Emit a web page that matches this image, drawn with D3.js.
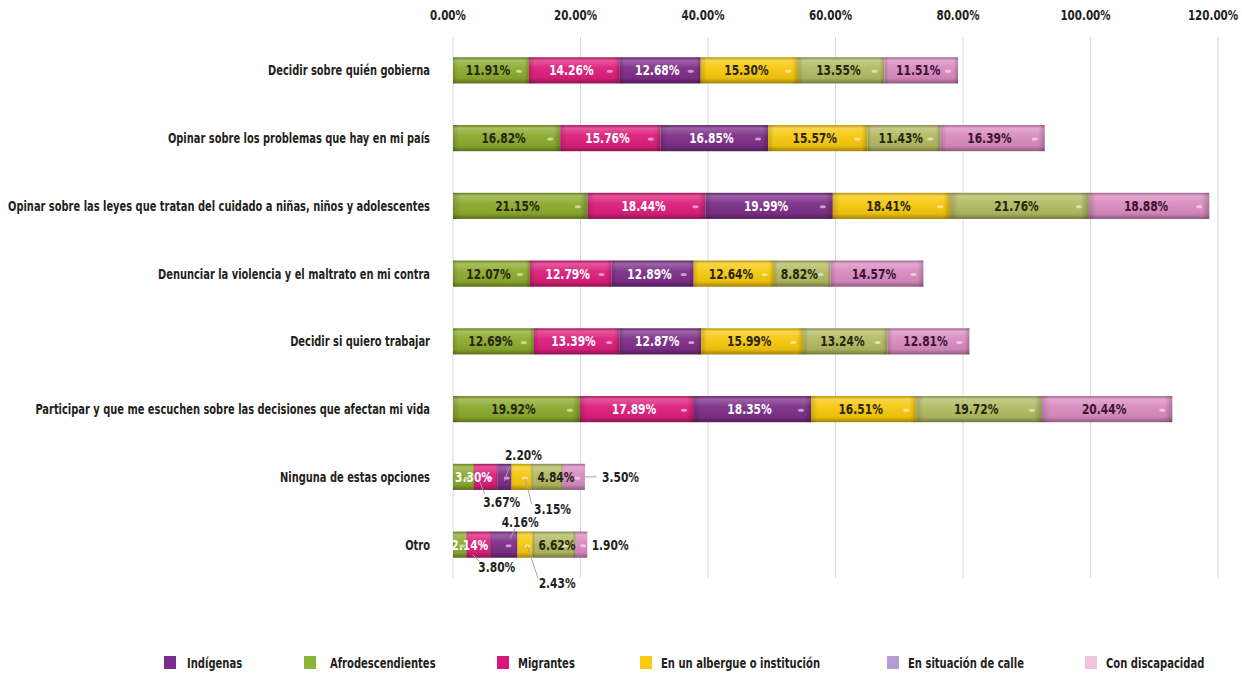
<!DOCTYPE html>
<html>
<head>
<meta charset="utf-8">
<script src="https://cdn.jsdelivr.net/npm/d3@7"></script>
<style>
  body { margin: 0; background: #fff; }
  svg text { font-family: "DejaVu Sans", sans-serif; font-stretch: condensed; font-weight: bold; }
</style>
</head>
<body>
<div id="chart"></div>
<script>
// Categories, top to bottom
var categories = [
  "Decidir sobre quién gobierna",
  "Opinar sobre los problemas que hay en mi país",
  "Opinar sobre las leyes que tratan del cuidado a niñas, niños y adolescentes",
  "Denunciar la violencia y el maltrato en mi contra",
  "Decidir si quiero trabajar",
  "Participar y que me escuchen sobre las decisiones que afectan mi vida",
  "Ninguna de estas opciones",
  "Otro"
];

// Series in stacking order (left to right in each bar)
var seriesNames = ["Afrodescendientes", "Migrantes", "Indígenas", "En un albergue o institución", "En situación de calle", "Con discapacidad"];

var afro         = [11.91, 16.82, 21.15, 12.07, 12.69, 19.92, 3.30, 2.14];
var migrantes    = [14.26, 15.76, 18.44, 12.79, 13.39, 17.89, 3.67, 3.80];
var indigenas    = [12.68, 16.85, 19.99, 12.89, 12.87, 18.35, 2.20, 4.16];
var albergue     = [15.30, 15.57, 18.41, 12.64, 15.99, 16.51, 3.15, 2.43];
var calle        = [13.55, 11.43, 21.76,  8.82, 13.24, 19.72, 4.84, 6.62];
var discapacidad = [11.51, 16.39, 18.88, 14.57, 12.81, 20.44, 3.50, 1.90];

var seriesValues = [afro, migrantes, indigenas, albergue, calle, discapacidad];

// Axis ticks
var tickValues = [0, 20, 40, 60, 80, 100, 120];

// Legend order
var legendNames = ["Indígenas", "Afrodescendientes", "Migrantes", "En un albergue o institución", "En situación de calle", "Con discapacidad"];

// Colors
var barColors   = ["#8bab2e", "#dc1f7c", "#7d2f88", "#f6c80e", "#b3ba62", "#d98bc0"];
var labelColors = ["#26260f", "#ffffff", "#ffffff", "#2b2510", "#26260f", "#3a1430"];
var legendColors = {
  "Indígenas": "#7a2d8a",
  "Afrodescendientes": "#8db43a",
  "Migrantes": "#d8167c",
  "En un albergue o institución": "#f7cb12",
  "En situación de calle": "#b89bd3",
  "Con discapacidad": "#f1c3de"
};

// Labels of the two small bars: offsets from segment centre, leader line
var outsideLabels = [
  {row: 6, s: 0, dx: 10, dy: 0, inside: true, color: "#ffffff"},
  {row: 6, s: 1, dx: 16, dy: 25, line: [[-6, 5], [-1, 17]]},
  {row: 6, s: 2, dx: 19, dy: -22, line: [[0, 4], [5, -10]]},
  {row: 6, s: 3, dx: 31, dy: 32, line: [[4, 2], [10, 27]]},
  {row: 6, s: 4, dx: 9, dy: 0, inside: true},
  {row: 6, s: 5, dx: 47, dy: 0, line: [[11, 0], [23, 0]]},
  {row: 7, s: 0, dx: 10, dy: 0, inside: true, color: "#ffffff"},
  {row: 7, s: 1, dx: 18, dy: 22, line: [[-6, 10], [1, 17]]},
  {row: 7, s: 2, dx: 16, dy: -23, line: [[6, -6], [11, -16]]},
  {row: 7, s: 3, dx: 32, dy: 38, line: [[2, 1], [13, 34]]},
  {row: 7, s: 4, dx: 3, dy: 0, inside: true},
  {row: 7, s: 5, dx: 29, dy: 0}
];

var svgWidth = 1242;
var svgHeight = 674;

var x = d3.scaleLinear().domain([0, 120]).range([453, 1218]);
var y = d3.scaleBand().domain(categories).range([37, 578]).paddingInner(0.615).paddingOuter(0.3);

var svg = d3.select("#chart").append("svg")
  .attr("width", svgWidth)
  .attr("height", svgHeight);

// squeeze text horizontally so it looks like the condensed face of the original
function squeeze(sel, sample, target) {
  var probe = svg.append("text").attr("font-size", sel.attr("font-size")).text(sample);
  var k = target / probe.node().getComputedTextLength();
  probe.remove();
  sel.each(function() {
    var w = this.getComputedTextLength();
    d3.select(this).attr("textLength", w * k).attr("lengthAdjust", "spacingAndGlyphs");
  });
}

// Gloss gradients
var defs = svg.append("defs");
var vg = defs.append("linearGradient").attr("id", "gloss").attr("x1", 0).attr("y1", 0).attr("x2", 0).attr("y2", 1);
vg.append("stop").attr("offset", "0%").attr("stop-color", "#000").attr("stop-opacity", 0.25);
vg.append("stop").attr("offset", "12%").attr("stop-color", "#fff").attr("stop-opacity", 0.25);
vg.append("stop").attr("offset", "40%").attr("stop-color", "#fff").attr("stop-opacity", 0.05);
vg.append("stop").attr("offset", "80%").attr("stop-color", "#000").attr("stop-opacity", 0.05);
vg.append("stop").attr("offset", "100%").attr("stop-color", "#000").attr("stop-opacity", 0.35);
var hg = defs.append("linearGradient").attr("id", "edge").attr("x1", 0).attr("y1", 0).attr("x2", 1).attr("y2", 0);
hg.append("stop").attr("offset", "0%").attr("stop-color", "#000").attr("stop-opacity", 0.15);
hg.append("stop").attr("offset", "6%").attr("stop-color", "#000").attr("stop-opacity", 0);
hg.append("stop").attr("offset", "94%").attr("stop-color", "#000").attr("stop-opacity", 0);
hg.append("stop").attr("offset", "100%").attr("stop-color", "#000").attr("stop-opacity", 0.2);

// Gridlines
svg.append("g").selectAll("line")
  .data(tickValues)
  .enter().append("line")
  .attr("x1", d => x(d)).attr("x2", d => x(d))
  .attr("y1", 37).attr("y2", 578)
  .attr("stroke", "#d9d9d9").attr("stroke-width", 1);

// Top axis labels
var ticks = svg.append("g").selectAll("text")
  .data(tickValues)
  .enter().append("text")
  .attr("x", d => x(d) - 5)
  .attr("y", 20)
  .attr("text-anchor", "middle")
  .attr("font-size", 13.5)
  .attr("fill", "#231f20")
  .text(d => d.toFixed(2) + "%");
squeeze(ticks, "20.00%", 43);

// Category labels
var catLabels = svg.append("g").selectAll("text")
  .data(categories)
  .enter().append("text")
  .attr("x", 430)
  .attr("y", d => y(d) + y.bandwidth() / 2 + 5)
  .attr("text-anchor", "end")
  .attr("font-size", 14)
  .attr("fill", "#231f20")
  .text(d => d);
squeeze(catLabels, categories[2], 422);

// Stack the data
var table = categories.map(function(c, i) {
  var row = {cat: c};
  seriesNames.forEach(function(s, j) { row[s] = seriesValues[j][i]; });
  return row;
});
var stacked = d3.stack().keys(seriesNames)(table);

var segGroup = svg.append("g");
stacked.forEach(function(layer, j) {
  var segs = segGroup.append("g").selectAll("g")
    .data(layer)
    .enter().append("g");
  segs.append("rect")
    .attr("x", d => x(d[0]))
    .attr("y", d => y(d.data.cat))
    .attr("width", d => x(d[1]) - x(d[0]))
    .attr("height", y.bandwidth())
    .attr("fill", barColors[j]);
  segs.append("rect")
    .attr("x", d => x(d[0]))
    .attr("y", d => y(d.data.cat))
    .attr("width", d => x(d[1]) - x(d[0]))
    .attr("height", y.bandwidth())
    .attr("fill", "url(#gloss)");
  segs.append("rect")
    .attr("x", d => x(d[0]))
    .attr("y", d => y(d.data.cat))
    .attr("width", d => x(d[1]) - x(d[0]))
    .attr("height", y.bandwidth())
    .attr("fill", "url(#edge)");
  // little highlight near the right end
  segs.append("ellipse")
    .attr("cx", d => x(d[1]) - Math.min(10, (x(d[1]) - x(d[0])) / 3))
    .attr("cy", d => y(d.data.cat) + y.bandwidth() / 2 + 1)
    .attr("rx", 3).attr("ry", 1.5)
    .attr("fill", "#fff").attr("opacity", 0.55);
});

var outsideKey = {};
outsideLabels.forEach(function(o) { outsideKey[o.row + "-" + o.s] = o; });

// Value labels
var labelGroup = svg.append("g");
stacked.forEach(function(layer, j) {
  layer.forEach(function(d, i) {
    var o = outsideKey[i + "-" + j];
    var cx = (x(d[0]) + x(d[1])) / 2;
    var cy = y(d.data.cat) + y.bandwidth() / 2;
    var val = seriesValues[j][i].toFixed(2) + "%";
    if (!o) {
      labelGroup.append("text")
        .attr("class", "val")
        .attr("x", cx - 3)
        .attr("y", cy + 5)
        .attr("text-anchor", "middle")
        .attr("font-size", 13.5)
        .attr("fill", labelColors[j])
        .text(val);
      return;
    }
    if (o.line) {
      labelGroup.append("line")
        .attr("x1", cx + o.line[0][0]).attr("y1", cy + o.line[0][1])
        .attr("x2", cx + o.line[1][0]).attr("y2", cy + o.line[1][1])
        .attr("stroke", "#a6a6a6").attr("stroke-width", 1);
    }
    labelGroup.append("text")
      .attr("class", "val")
      .attr("x", cx + o.dx)
      .attr("y", cy + o.dy + 5)
      .attr("text-anchor", "middle")
      .attr("font-size", 13.5)
      .attr("fill", o.color || (o.inside ? labelColors[j] : "#231f20"))
      .text(val);
  });
});
squeeze(labelGroup.selectAll("text.val"), "3.50%", 37);

// Legend
var legendX = [164, 304, 497, 640, 887, 1085];
var legend = svg.append("g");
legendNames.forEach(function(n, i) {
  legend.append("rect")
    .attr("x", legendX[i]).attr("y", 656)
    .attr("width", 12).attr("height", 13)
    .attr("fill", legendColors[n]);
  legend.append("text")
    .attr("x", legendX[i] + (i === 0 ? 23 : i === 1 ? 26 : 21))
    .attr("y", 668)
    .attr("font-size", 13.5)
    .attr("fill", "#231f20")
    .text(n);
});
squeeze(legend.selectAll("text"), "En un albergue o institución", 159);
</script>
</body>
</html>
